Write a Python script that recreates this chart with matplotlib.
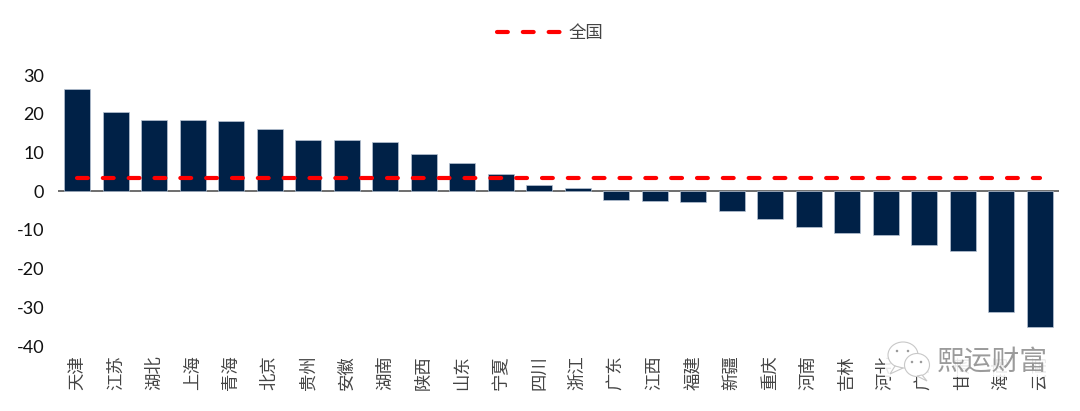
import matplotlib
matplotlib.use('Agg')
import matplotlib.pyplot as plt
from matplotlib.patches import Ellipse, Rectangle, Polygon

plt.rcParams['font.family'] = ['Noto Sans CJK SC', 'DejaVu Sans']
plt.rcParams['axes.unicode_minus'] = False

provinces = ['天津', '江苏', '湖北', '上海', '青海', '北京', '贵州', '安徽', '湖南', '陕西', '山东', '宁夏', '四川',
             '浙江', '广东', '江西', '福建', '新疆', '重庆', '河南', '吉林', '河北', '广西', '甘肃', '海南', '云南']
values = [26.3, 20.5, 18.5, 18.3, 18.0, 16.1, 13.3, 13.3, 12.8, 9.6, 7.3, 4.3, 1.7,
          0.9, -2.2, -2.5, -2.7, -5.2, -7.3, -9.2, -10.8, -11.4, -13.8, -15.4, -31.3, -35.2]
national = [3.5] * len(provinces)
yticks = [30, 20, 10, 0, -10, -20, -30, -40]

fig = plt.figure(figsize=(10.8, 4.11), dpi=100)
ax = fig.add_axes([58 / 1080, 1 - 346 / 411, (1059 - 58) / 1080, (346 - 75) / 411])

x = list(range(len(provinces)))
ax.bar(x, values, width=0.67, color='#002147', edgecolor='#b8c4d4', linewidth=0.5, zorder=2)
line, = ax.plot(x, national, color='#ff0000', lw=3, dashes=(2.6, 3.6), dash_capstyle='round', label='全国', zorder=3)

ax.set_xlim(-0.5, 25.5)
ax.set_ylim(-40, 30)
ax.set_yticks(yticks)
ax.set_yticklabels([str(v) for v in yticks], family='Lato', fontsize=13, color='#111111')
ax.set_xticks(x)
ax.set_xticklabels(provinces, rotation=90, fontsize=12.5, color='#444444', fontweight='light')
ax.tick_params(axis='x', length=0, pad=7)
ax.tick_params(axis='y', length=0, pad=10)
for s in ['top', 'right', 'left', 'bottom']:
    ax.spines[s].set_visible(False)
ax.axhline(0, color='#555555', lw=1.2, zorder=1)

fig.legend(handles=[line], loc='center', bbox_to_anchor=(550 / 1080, 1 - 33 / 411), frameon=False,
           fontsize=12.5, handlelength=3.9, handletextpad=0.2, labelcolor='#444444')

# watermark, sits on top of the last labels like in the original
over = fig.add_axes([0, 0, 1, 1], facecolor='none')
over.set_xlim(0, 1080)
over.set_ylim(411, 0)
over.axis('off')
over.add_patch(Rectangle((885, 340), 170, 37, fc='white', ec='none', alpha=0.88))
over.add_patch(Ellipse((903, 355), 30, 26, fc='white', ec='#c8c8c8', lw=0.8))
over.add_patch(Polygon([(895, 366), (890, 374), (903, 368)], fc='white', ec='#c8c8c8', lw=0.8))
over.add_patch(Ellipse((917, 365), 25, 23, fc='white', ec='#c8c8c8', lw=0.8))
over.add_patch(Polygon([(922, 375), (927, 381), (917, 376)], fc='white', ec='#c8c8c8', lw=0.8))
for ex, ey in [(897, 351), (908, 351), (912, 362), (921, 362)]:
    over.add_patch(Ellipse((ex, ey), 2.5, 2.5, fc='#999999', ec='none'))
over.text(992, 362, '熙运财富', fontsize=20, color='#8a8a8a', alpha=0.85, ha='center', va='center', fontweight='light')

fig.savefig('out.png', dpi=100)
